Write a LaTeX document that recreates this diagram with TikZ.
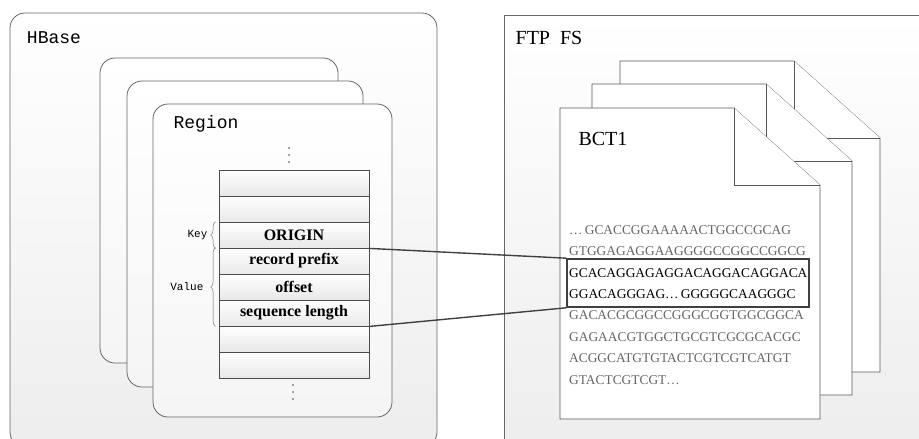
\documentclass[tikz,border=0pt]{standalone}
\usepackage{fontspec}
\setmainfont{Liberation Serif}
\newfontfamily\simfont{Liberation Mono}
\usetikzlibrary{decorations.pathreplacing}

\begin{document}
\begin{tikzpicture}[x=1pt,y=-1pt]
        \tikzstyle{every node} = [inner sep=0pt]
        \tikzstyle{outer} = [draw=black!60, line width=0.8pt, top color=white, bottom color=black!7]
        \tikzstyle{card} = [draw=black!60, line width=0.8pt, rounded corners=15pt, top color=white, bottom color=black!4]
        \tikzstyle{cell} = [draw=black!70, line width=0.8pt, minimum width=150pt, minimum height=26pt,
            top color=white, bottom color=black!9, font=\fontsize{16}{18}\selectfont\bfseries]
        \tikzstyle{page} = [draw=black!65, line width=0.7pt, fill=white]
        \tikzstyle{seq} = [anchor=west, font=\fontsize{13.4}{15}\selectfont]
        \tikzstyle{brc} = [draw=black!60, decorate, decoration={brace, amplitude=5pt}]
        \tikzstyle{link} = [draw=black!75, line width=1.4pt]
        \useasboundingbox (0,0) rectangle (919,439);
        \clip (0,0) rectangle (919,439);

        % HBase side
        \draw[outer, rounded corners=15pt] (10,13) rectangle (437,447);
        \node[font=\simfont\fontsize{18}{20}\selectfont] (hbase) at (54,38) {HBase};
        \foreach \l/\t/\r/\b in {100/58/338/363, 127/81/363/387, 153/104/392/417}
            \draw[card] (\l,\t) rectangle (\r,\b);
        \node[font=\simfont\fontsize{18}{20}\selectfont] (region) at (206,124) {Region};
        \foreach \i/\txt in {1/, 2/, 3/ORIGIN, 4/record prefix, 5/offset, 6/sequence length, 7/, 8/}
            \node[cell] (r\i) at (294,157+26*\i) {\txt};
        % more rows above and below
        \foreach \d in {0,7,14} {
            \fill[black!70] (289,148+\d) circle (0.9pt);
            \fill[black!70] (293,385+\d) circle (0.9pt);
        }
        \draw[brc] ([xshift=-3pt]r3.south west) -- ([xshift=-3pt]r3.north west)
            node[midway, left=8pt, font=\simfont\fontsize{11}{13}\selectfont] (key) {Key};
        \draw[brc] ([xshift=-3pt]r6.south west) -- ([xshift=-3pt]r4.north west)
            node[midway, left=12pt, font=\simfont\fontsize{11}{13}\selectfont] (value) {Value};

        % FTP side
        \draw[outer] (504,15) rectangle (930,450);
        \node[font=\fontsize{20}{22}\selectfont] (ftp) at (549,38) {FTP\ \ FS};
        \foreach \x/\y in {620/61, 592/84, 560/108} {
            \filldraw[page] (\x,\y) -- (\x+174,\y) -- (\x+260,\y+77) -- (\x+260,\y+311) -- (\x,\y+311) -- cycle;
            \draw[page] (\x+174,\y) -- (\x+174,\y+77) -- (\x+260,\y+77);
        }
        \node[font=\fontsize{20}{22}\selectfont] (bct) at (603,139) {BCT1};
        \foreach \i/\c/\s in {1/black!60/\ldots\,GCACCGGAAAAACTGGCCGCAG,
                              2/black!60/GTGGAGAGGAAGGGGCCGGCCGGCG,
                              3/black/GCACAGGAGAGGACAGGACAGGACA,
                              4/black/GGACAGGGAG\ldots\,GGGGGCAAGGGC,
                              5/black!60/GACACGCGGCCGGGCGGTGGCGGCA,
                              6/black!60/GAGAACGTGGCTGCGTCGCGCACGC,
                              7/black!60/ACGGCATGTGTACTCGTCGTCATGT,
                              8/black!60/GTACTCGTCGT\ldots}
            \node[seq, text=\c] (s\i) at (569,208.6+21.4*\i) {\s};
        \node[draw=black!75, line width=1.6pt, minimum width=242pt, minimum height=48pt] (hl) at (688,283) {};

        \draw[link] (r3.south east) -- (hl.north west);
        \draw[link] (r6.south east) -- (hl.south west);
\end{tikzpicture}
\end{document}
